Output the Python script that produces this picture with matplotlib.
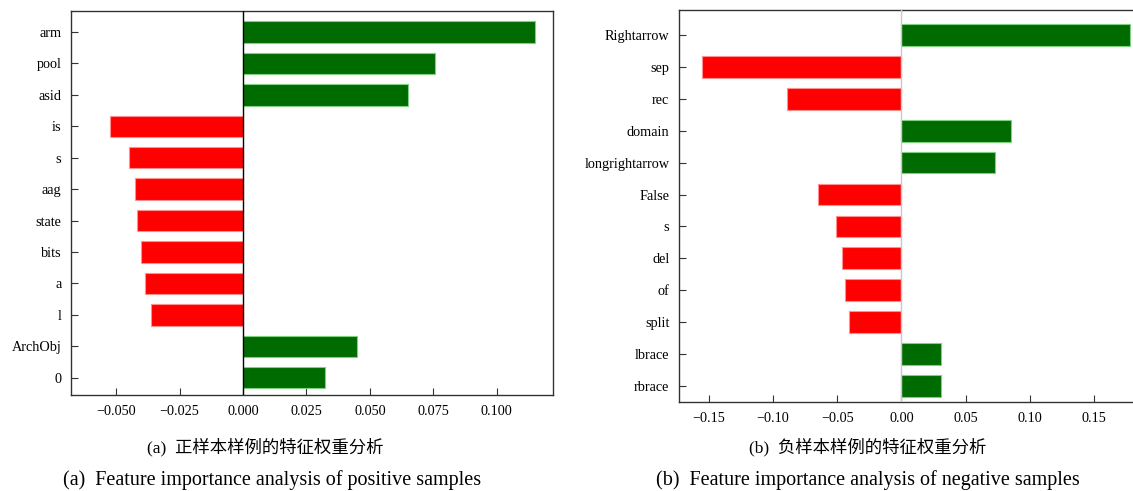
import numpy as np
import matplotlib.pyplot as plt

plt.rcParams['font.family'] = ['Liberation Serif', 'Noto Sans CJK SC', 'DejaVu Sans']
plt.rcParams['axes.unicode_minus'] = True

# positive samples (panel a)
pos_features = ["arm", "pool", "asid", "is", "s", "aag", "state", "bits", "a", "l", "ArchObj", "0"]
pos_weights = [0.1150, 0.0758, 0.0650, -0.0525, -0.0450, -0.0426, -0.0416, -0.0403, -0.0385, -0.0362, 0.0451, 0.0325]

# negative samples (panel b)
neg_features = ["Rightarrow", "sep", "rec", "domain", "longrightarrow", "False", "s", "del", "of", "split", "lbrace", "rbrace"]
neg_weights = [0.1780, -0.1556, -0.0893, 0.0855, 0.0730, -0.0646, -0.0512, -0.0465, -0.0440, -0.0412, 0.0305, 0.0305]

pos_ticks = [-0.050, -0.025, 0.000, 0.025, 0.050, 0.075, 0.100]
neg_ticks = [-0.15, -0.10, -0.05, 0.00, 0.05, 0.10, 0.15]

green = "#006b00"
red = "#ff0000"

W, H = 1133, 491
fig = plt.figure(figsize=(W / 100, H / 100), dpi=100)

def px_axes(l, t, r, b):
    return fig.add_axes([l / W, 1 - b / H, (r - l) / W, (b - t) / H])

def draw(ax, feats, vals, ticks, fmt, zero_color, xlim, ylim):
    y = np.arange(len(feats))
    colors = [green if v > 0 else red for v in vals]
    edges = ["#7fd07f" if v > 0 else "#ff9090" for v in vals]
    ax.barh(y, vals, height=0.68, color=colors, edgecolor=edges, linewidth=0.8, zorder=2)
    ax.axvline(0, color=zero_color, lw=1.0, zorder=3)
    ax.set_yticks(y)
    ax.set_yticklabels(feats, fontsize=10.3)
    ax.set_xticks(ticks)
    ax.set_xticklabels([fmt.format(t).replace('-', '\u2212') for t in ticks], fontsize=10.3)
    ax.set_xlim(*xlim)
    ax.set_ylim(*ylim)
    ax.tick_params(direction='in', length=5, width=0.8, color='#333333', pad=7)
    for s in ax.spines.values():
        s.set_color('#333333')
        s.set_linewidth(1.0)

ax1 = px_axes(71, 11, 553, 395)
draw(ax1, pos_features, pos_weights, pos_ticks, "{:.3f}", "black",
     (-0.0678, 0.1222), (11.55, -0.67))

ax2 = px_axes(679, 10, 1133, 402)
draw(ax2, neg_features, neg_weights, neg_ticks, "{:.2f}", "#c8c8c8",
     (-0.1733, 0.1805), (11.5, -0.78))
ax2.spines['right'].set_visible(False)

fig.text(265 / W, 1 - 447 / H, "(a)  正样本样例的特征权重分析", ha='center', va='center', fontsize=12.5)
fig.text(272 / W, 1 - 480 / H, "(a)  Feature importance analysis of positive samples", ha='center', va='center', fontsize=14.5)
fig.text(868 / W, 1 - 447 / H, "(b)  负样本样例的特征权重分析", ha='center', va='center', fontsize=12.5)
fig.text(868 / W, 1 - 480 / H, "(b)  Feature importance analysis of negative samples", ha='center', va='center', fontsize=14.5)

fig.savefig("out.png", dpi=100)
